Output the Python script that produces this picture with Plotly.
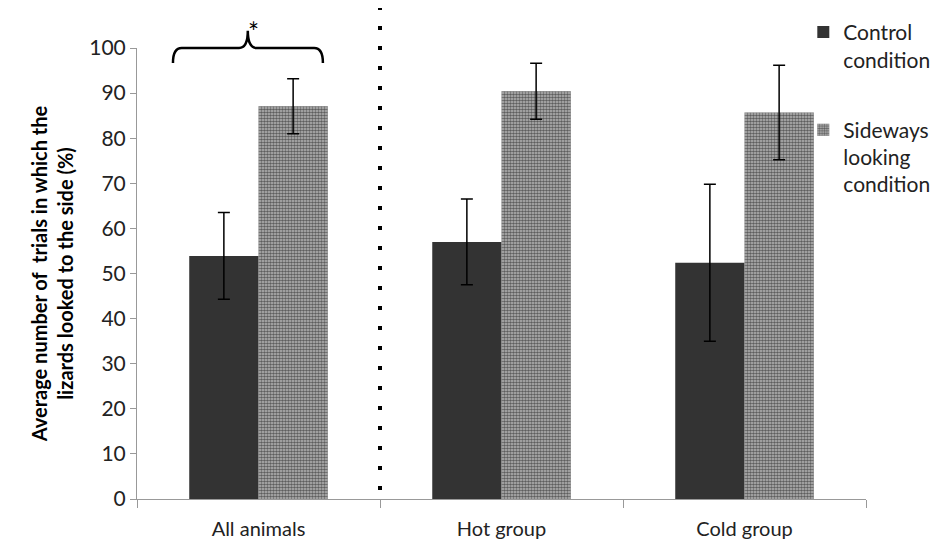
import plotly.graph_objects as go

categories = ["All animals", "Hot group", "Cold group"]
control_vals = [53.9, 57.0, 52.4]
control_err = [9.6, 9.5, 17.4]
sideways_vals = [87.1, 90.4, 85.7]
sideways_err = [6.1, 6.2, 10.5]
y_ticks = [0, 10, 20, 30, 40, 50, 60, 70, 80, 90, 100]

FONT = "Lato, 'Open Sans', sans-serif"

fig = go.Figure()
fig.add_trace(go.Bar(
    x=categories, y=control_vals, name="Control<br>condition",
    marker=dict(color="#333333", line=dict(width=0)),
    error_y=dict(type="data", array=control_err, color="black", thickness=1.5, width=6),
    legendgroup="a",
))
fig.add_trace(go.Bar(
    x=categories, y=sideways_vals, name="Sideways<br>looking<br>condition",
    marker=dict(color="white", line=dict(width=0),
                pattern=dict(shape=".", size=3, solidity=0.6, fgcolor="black", bgcolor="#bdbdbd")),
    error_y=dict(type="data", array=sideways_err, color="black", thickness=1.5, width=6),
    legendgroup="b",
))

# paper coordinate helpers (x range [-0.5, 2.5], y range [0, 100])
def px_(xv):
    return (xv + 0.5) / 3.0
def py_(yv):
    return yv / 100.0

shapes = []
# dotted separator between "All animals" and "Hot group"
shapes.append(dict(type="line", xref="paper", yref="paper",
                   x0=px_(0.5), x1=px_(0.5), y0=py_(2), y1=py_(109),
                   line=dict(color="black", width=4, dash="4px,16px")))
# brace above the first group
xl, xr, xm = px_(-0.352), px_(0.265), px_(-0.044)
yb, yh, yt = py_(96.7), py_(100.0), py_(103.8)
dx = 0.012
path = (f"M {xl},{yb} Q {xl},{yh} {xl+dx},{yh} L {xm-dx},{yh} "
        f"Q {xm},{yh} {xm},{yt} Q {xm},{yh} {xm+dx},{yh} "
        f"L {xr-dx},{yh} Q {xr},{yh} {xr},{yb}")
shapes.append(dict(type="path", xref="paper", yref="paper", path=path,
                   line=dict(color="black", width=2.5)))

# the page body adds an 8px offset, so the figure is 8px smaller
fig.update_layout(
    width=939, height=540,
    margin=dict(l=129, r=81, t=40, b=49, autoexpand=False),
    paper_bgcolor="white", plot_bgcolor="white",
    barmode="group", bargap=0.43, bargroupgap=0,
    font=dict(family=FONT, color="#222222", size=20),
    shapes=shapes,
    annotations=[dict(x=xm, y=py_(107.5), xref="paper", yref="paper", text="*",
                      xshift=-2, showarrow=False, font=dict(size=26, color="black"))],
    legend=dict(x=0.914, y=1.08, xanchor="left", yanchor="top",
                font=dict(size=21, family=FONT, color="#222222"),
                tracegroupgap=40, valign="top", bgcolor="rgba(0,0,0,0)",
                itemwidth=30),
    showlegend=True,
)
fig.update_xaxes(
    type="category", range=[-0.5, 2.5], showline=True, linecolor="#999999", linewidth=1,
    ticks="outside", ticklen=8, tickcolor="#999999", tickson="boundaries",
    showgrid=False, tickfont=dict(size=20), automargin=False, ticklabelstandoff=12,
)
fig.update_yaxes(
    range=[0, 100], tickvals=y_ticks, showline=True, linecolor="#999999", linewidth=1,
    ticks="outside", ticklen=6, tickcolor="#999999", showgrid=False, zeroline=False,
    tickfont=dict(size=21), automargin=False,
    title=dict(text="<b>Average number of  trials in which the<br>lizards looked to the side (%)</b>",
               font=dict(size=20, color="black"), standoff=10),
)

fig.write_html("out.html")
